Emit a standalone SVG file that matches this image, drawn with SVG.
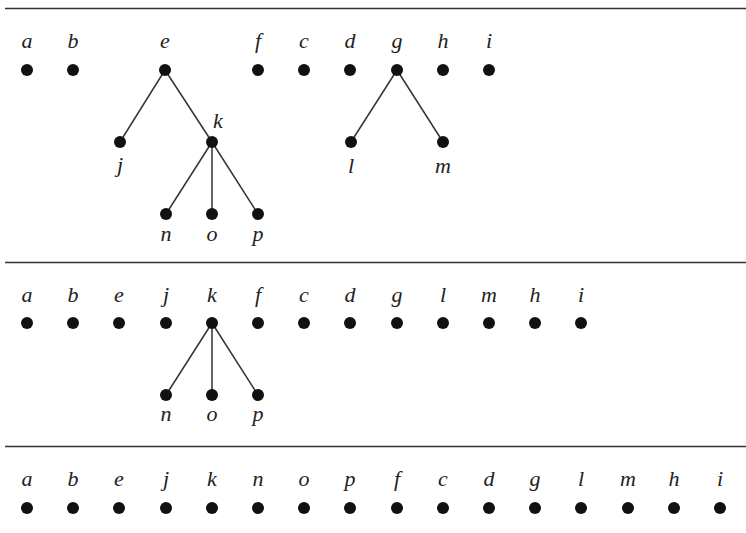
<svg xmlns="http://www.w3.org/2000/svg" width="746" height="533" viewBox="0 0 746 533">
<style>
.rule{stroke:#333;stroke-width:1.6}
.e{stroke:#333;stroke-width:1.5;fill:none}
.d{fill:#111}
text{font-family:"Liberation Serif",serif;font-style:italic;font-size:22px;fill:#222;text-anchor:middle}
</style>
<rect width="746" height="533" fill="#fff"/>
<line class="rule" x1="5" y1="8.5" x2="746" y2="8.5"/>
<line class="rule" x1="5" y1="262.5" x2="746" y2="262.5"/>
<line class="rule" x1="5" y1="446.5" x2="746" y2="446.5"/>
<g id="connectors">
<line class="e" x1="165" y1="70" x2="120" y2="142"/>
<line class="e" x1="165" y1="70" x2="212" y2="142"/>
<line class="e" x1="212" y1="142" x2="166" y2="214"/>
<line class="e" x1="212" y1="142" x2="212" y2="214"/>
<line class="e" x1="212" y1="142" x2="258" y2="214"/>
<line class="e" x1="397" y1="70" x2="351" y2="142"/>
<line class="e" x1="397" y1="70" x2="443" y2="142"/>
<line class="e" x1="212" y1="323" x2="166" y2="395"/>
<line class="e" x1="212" y1="323" x2="212" y2="395"/>
<line class="e" x1="212" y1="323" x2="258" y2="395"/>
</g>
<g id="top-a"><circle class="d" cx="27" cy="70" r="6"/><text x="27" y="48">a</text></g>
<g id="top-b"><circle class="d" cx="73" cy="70" r="6"/><text x="73" y="48">b</text></g>
<g id="top-e"><circle class="d" cx="165" cy="70" r="6"/><text x="165" y="48">e</text></g>
<g id="top-f"><circle class="d" cx="258" cy="70" r="6"/><text x="258" y="48">f</text></g>
<g id="top-c"><circle class="d" cx="304" cy="70" r="6"/><text x="304" y="48">c</text></g>
<g id="top-d"><circle class="d" cx="350" cy="70" r="6"/><text x="350" y="48">d</text></g>
<g id="top-g"><circle class="d" cx="397" cy="70" r="6"/><text x="397" y="48">g</text></g>
<g id="top-h"><circle class="d" cx="443" cy="70" r="6"/><text x="443" y="48">h</text></g>
<g id="top-i"><circle class="d" cx="489" cy="70" r="6"/><text x="489" y="48">i</text></g>
<g id="top-j"><circle class="d" cx="120" cy="142" r="6"/><text x="120" y="172">j</text></g>
<g id="top-k"><circle class="d" cx="212" cy="142" r="6"/><text x="218" y="128">k</text></g>
<g id="top-l"><circle class="d" cx="351" cy="142" r="6"/><text x="351" y="173">l</text></g>
<g id="top-m"><circle class="d" cx="443" cy="142" r="6"/><text x="443" y="173">m</text></g>
<g id="top-n"><circle class="d" cx="166" cy="214" r="6"/><text x="166" y="241">n</text></g>
<g id="top-o"><circle class="d" cx="212" cy="214" r="6"/><text x="212" y="241">o</text></g>
<g id="top-p"><circle class="d" cx="258" cy="214" r="6"/><text x="258" y="241">p</text></g>

<g id="mid-a"><circle class="d" cx="27" cy="323" r="6"/><text x="27" y="302">a</text></g>
<g id="mid-b"><circle class="d" cx="73" cy="323" r="6"/><text x="73" y="302">b</text></g>
<g id="mid-e"><circle class="d" cx="119" cy="323" r="6"/><text x="119" y="302">e</text></g>
<g id="mid-j"><circle class="d" cx="166" cy="323" r="6"/><text x="166" y="302">j</text></g>
<g id="mid-k"><circle class="d" cx="212" cy="323" r="6"/><text x="212" y="302">k</text></g>
<g id="mid-f"><circle class="d" cx="258" cy="323" r="6"/><text x="258" y="302">f</text></g>
<g id="mid-c"><circle class="d" cx="304" cy="323" r="6"/><text x="304" y="302">c</text></g>
<g id="mid-d"><circle class="d" cx="350" cy="323" r="6"/><text x="350" y="302">d</text></g>
<g id="mid-g"><circle class="d" cx="397" cy="323" r="6"/><text x="397" y="302">g</text></g>
<g id="mid-l"><circle class="d" cx="443" cy="323" r="6"/><text x="443" y="302">l</text></g>
<g id="mid-m"><circle class="d" cx="489" cy="323" r="6"/><text x="489" y="302">m</text></g>
<g id="mid-h"><circle class="d" cx="535" cy="323" r="6"/><text x="535" y="302">h</text></g>
<g id="mid-i"><circle class="d" cx="581" cy="323" r="6"/><text x="581" y="302">i</text></g>
<g id="mid-n"><circle class="d" cx="166" cy="395" r="6"/><text x="166" y="421">n</text></g>
<g id="mid-o"><circle class="d" cx="212" cy="395" r="6"/><text x="212" y="421">o</text></g>
<g id="mid-p"><circle class="d" cx="258" cy="395" r="6"/><text x="258" y="421">p</text></g>

<g id="bot-a"><circle class="d" cx="27" cy="508" r="6"/><text x="27" y="486">a</text></g>
<g id="bot-b"><circle class="d" cx="73" cy="508" r="6"/><text x="73" y="486">b</text></g>
<g id="bot-e"><circle class="d" cx="119" cy="508" r="6"/><text x="119" y="486">e</text></g>
<g id="bot-j"><circle class="d" cx="166" cy="508" r="6"/><text x="166" y="486">j</text></g>
<g id="bot-k"><circle class="d" cx="212" cy="508" r="6"/><text x="212" y="486">k</text></g>
<g id="bot-n"><circle class="d" cx="258" cy="508" r="6"/><text x="258" y="486">n</text></g>
<g id="bot-o"><circle class="d" cx="304" cy="508" r="6"/><text x="304" y="486">o</text></g>
<g id="bot-p"><circle class="d" cx="350" cy="508" r="6"/><text x="350" y="486">p</text></g>
<g id="bot-f"><circle class="d" cx="397" cy="508" r="6"/><text x="397" y="486">f</text></g>
<g id="bot-c"><circle class="d" cx="443" cy="508" r="6"/><text x="443" y="486">c</text></g>
<g id="bot-d"><circle class="d" cx="489" cy="508" r="6"/><text x="489" y="486">d</text></g>
<g id="bot-g"><circle class="d" cx="535" cy="508" r="6"/><text x="535" y="486">g</text></g>
<g id="bot-l"><circle class="d" cx="581" cy="508" r="6"/><text x="581" y="486">l</text></g>
<g id="bot-m"><circle class="d" cx="628" cy="508" r="6"/><text x="628" y="486">m</text></g>
<g id="bot-h"><circle class="d" cx="674" cy="508" r="6"/><text x="674" y="486">h</text></g>
<g id="bot-i"><circle class="d" cx="720" cy="508" r="6"/><text x="720" y="486">i</text></g>
</svg>
